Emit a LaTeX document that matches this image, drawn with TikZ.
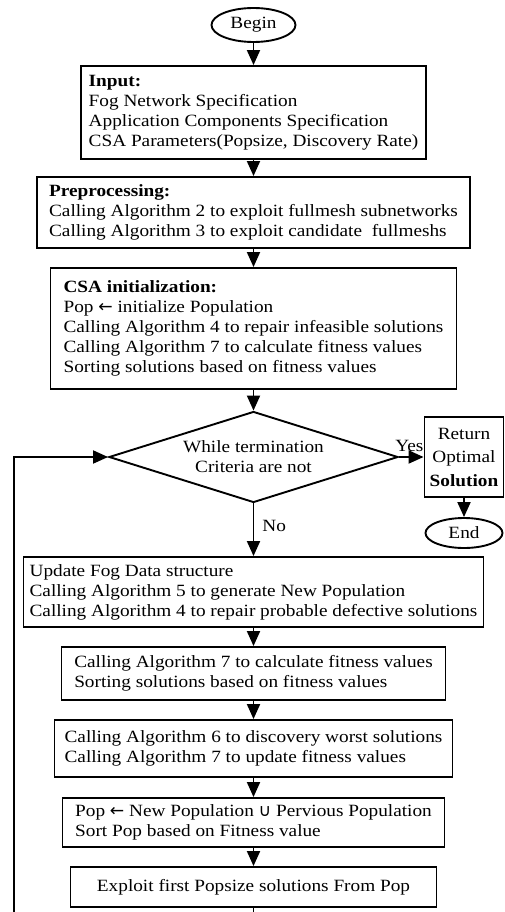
\documentclass[tikz,border=0pt]{standalone}
\usepackage{fontspec}
\setmainfont{Liberation Serif}[FakeStretch=1.12]
\newfontfamily\symfont{DejaVu Sans}[Scale=1.0]
\usetikzlibrary{positioning,arrows.meta,shapes.geometric}
\newcommand{\pfrom}{{\symfont ←}}
\newcommand{\punion}{{\symfont ∪}}
\begin{document}
\begin{tikzpicture}[x=1pt, y=-1pt, >={Triangle[length=15pt,width=13pt]}, line width=1.9pt,
  every node/.style={font=\fontsize{17.2}{20}\selectfont},
  stepbox/.style={draw, rectangle, align=left, inner sep=2pt},
  endpoint/.style={draw, ellipse, inner sep=0pt},
  test/.style={draw, diamond, aspect=3.2, inner sep=0pt, align=center}]
\useasboundingbox (0,0) rectangle (505,912);
\def\cx{253.5}
% main column
\node[endpoint, minimum width=84, minimum height=34] (start) at (\cx,25) {Begin};
\node[stepbox, minimum width=345, minimum height=93] (input) at (\cx,112.5)
  {\textbf{Input:}\\Fog Network Specification\\Application Components Specification\\CSA Parameters(Popsize, Discovery Rate)};
\node[stepbox, minimum width=433, minimum height=71] (prep) at (\cx,212.5)
  {\textbf{Preprocessing:}\\Calling Algorithm 2 to exploit fullmesh subnetworks\\Calling Algorithm 3 to exploit candidate~ fullmeshs};
\node[stepbox, minimum width=406, minimum height=121] (csainit) at (\cx,328.5)
  {\textbf{CSA initialization:}\\Pop \pfrom{} initialize Population\\Calling Algorithm 4 to repair infeasible solutions\\Calling Algorithm 7 to calculate fitness values\\Sorting solutions based on fitness values};
\node[test, minimum width=289, minimum height=91] (cond) at (\cx,457) {While termination\\Criteria are not};
% exit branch
\node[stepbox, align=center, minimum width=79, minimum height=80, font=\fontsize{17.2}{23.5}\selectfont] (ret) at (464,457)
  {Return\\Optimal\\\textbf{Solution}};
\node[endpoint, minimum width=77, minimum height=30] (finish) at (464,533) {End};
% loop body
\node[stepbox, minimum width=460, minimum height=70] (update) at (\cx,592)
  {Update Fog Data structure\\Calling Algorithm 5 to generate New Population\\Calling Algorithm 4 to repair probable defective solutions};
\node[stepbox, minimum width=384, minimum height=53] (fitness) at (\cx,673.5)
  {Calling Algorithm 7 to calculate fitness values\\Sorting solutions based on fitness values};
\node[stepbox, minimum width=398, minimum height=57] (discover) at (\cx,748.5)
  {Calling Algorithm 6 to discovery worst solutions\\Calling Algorithm 7 to update fitness values};
\node[stepbox, minimum width=382, minimum height=49] (merge) at (\cx,822.5)
  {Pop \pfrom{} New Population \punion{} Pervious Population\\Sort Pop based on Fitness value};
\node[stepbox, align=center, minimum width=366, minimum height=40] (exploit) at (\cx,887)
  {Exploit first Popsize solutions From Pop};
% connectors
\foreach \a/\b in {start/input, input/prep, prep/csainit, csainit/cond, update/fitness, fitness/discover, discover/merge, merge/exploit}
  \draw[->] (\a) -- (\b);
\draw[->] (cond) -- node[pos=0.42, above, inner sep=4pt]{Yes} (ret);
\draw[->] (cond) -- node[pos=0.42, right, inner sep=8pt]{No} (update);
\draw[->] (ret) -- (finish);
\coordinate (cut) at (\cx,912);
\coordinate (loopin) at (14,912);
\draw (exploit) -- (cut);
\draw[->] (loopin) |- (cond.west);
\end{tikzpicture}
\end{document}
